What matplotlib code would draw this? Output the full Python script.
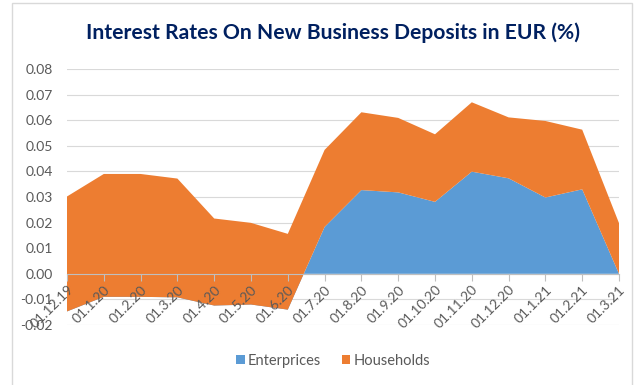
import matplotlib.pyplot as plt
from matplotlib.patches import Rectangle
import numpy as np

# data
months = ["01.12.19", "01.1.20", "01.2.20", "01.3.20", "01.4.20", "01.5.20",
          "01.6.20", "01.7.20", "01.8.20", "01.9.20", "01.10.20", "01.11.20",
          "01.12.20", "01.1.21", "01.2.21", "01.3.21"]
enterprises = [-0.0147, -0.0090, -0.0090, -0.0092, -0.0124, -0.0120,
               -0.0140, 0.0183, 0.0327, 0.0318, 0.0281, 0.0399,
               0.0373, 0.0298, 0.0330, 0.0000]
totals = [0.0302, 0.0390, 0.0390, 0.0372, 0.0216, 0.0199,
          0.0156, 0.0484, 0.0631, 0.0609, 0.0545, 0.0670,
          0.0611, 0.0597, 0.0563, 0.0198]
households = [round(t - e, 4) for t, e in zip(totals, enterprises)]

BLUE = "#5B9BD5"
ORANGE = "#ED7D31"
GREY_TXT = "#595959"
GRID = "#D9D9D9"

plt.rcParams["font.family"] = ["Lato", "DejaVu Sans"]

fig = plt.figure(figsize=(6.36, 3.85), dpi=100)
fig.patches.append(Rectangle((12 / 636, -0.01), 620 / 636, 1 - 3 / 385 + 0.01,
                             transform=fig.transFigure, fill=False,
                             edgecolor=GRID, linewidth=1.0))

ax = fig.add_axes([67 / 636, 1 - 325 / 385, 552 / 636, 256 / 385])
x = np.arange(len(months))
ax.stackplot(x, enterprises, households, colors=[BLUE, ORANGE],
             labels=["Enterprices", "Households"], zorder=2)

ax.set_xlim(0, len(months) - 1)
ax.set_ylim(-0.02, 0.08)
yticks = np.arange(-0.02, 0.081, 0.01)
ax.set_yticks(yticks)
ax.yaxis.set_major_formatter(plt.FuncFormatter(lambda v, p: f"{v:.2f}"))
# horizontal gridlines kept under the areas
for yv in yticks:
    ax.axhline(yv, color=GRID, linewidth=0.8, zorder=0.5)

for side in ["left", "right", "top"]:
    ax.spines[side].set_visible(False)
ax.spines["bottom"].set_position(("data", 0))
ax.spines["bottom"].set_color("#BFBFBF")
ax.spines["bottom"].set_zorder(3)

ax.set_xticks(x)
ax.set_xticklabels(months, rotation=45, ha="right", rotation_mode="anchor")
ax.tick_params(axis="x", direction="out", length=5, color="#BFBFBF",
               labelsize=10, labelcolor=GREY_TXT, pad=2)
ax.tick_params(axis="y", length=0, labelsize=10, labelcolor=GREY_TXT, pad=10)
ax.xaxis.set_zorder(4)

fig.text(333 / 636, 1 - 33 / 385, "Interest Rates On New Business Deposits in EUR (%)",
         ha="center", va="center", fontsize=15.2, fontweight="bold", color="#002060")

fig.legend(loc="center", bbox_to_anchor=(333 / 636, 1 - 361 / 385), ncol=2,
           frameon=False, fontsize=10.5, labelcolor=GREY_TXT, handlelength=0.6,
           handleheight=0.6, handletextpad=0.2, columnspacing=1.4)

fig.savefig("out.png", dpi=100)
